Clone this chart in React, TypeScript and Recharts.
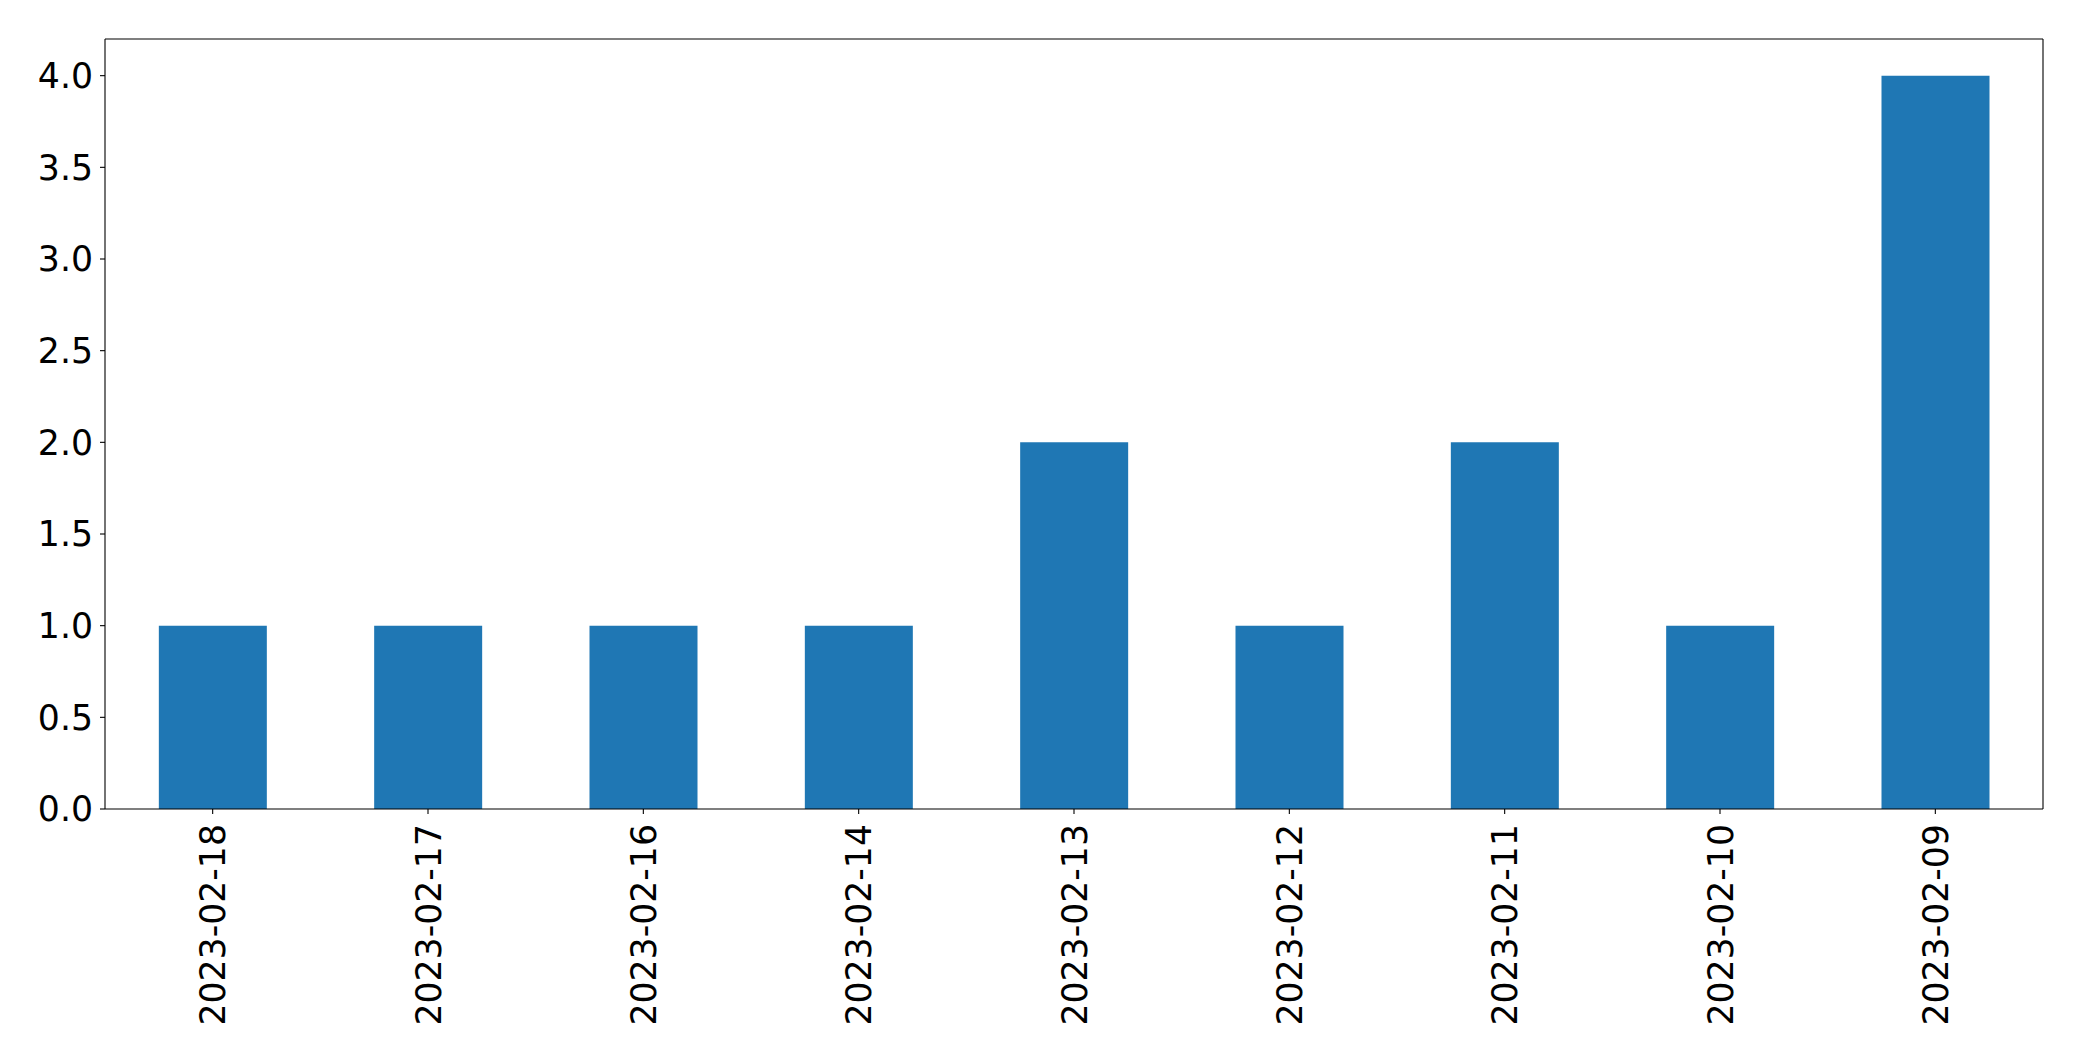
import { BarChart, Bar, XAxis, YAxis, ReferenceLine } from 'recharts';

const dates = [
  '2023-02-18', '2023-02-17', '2023-02-16', '2023-02-14', '2023-02-13',
  '2023-02-12', '2023-02-11', '2023-02-10', '2023-02-09',
];
const counts = [1, 1, 1, 1, 2, 1, 2, 1, 4];
const yTicks = [0, 0.5, 1, 1.5, 2, 2.5, 3, 3.5, 4];
const yMax = 4.2;

const data = dates.map((d, i) => ({ date: d, count: counts[i] }));

const FONT = "'DejaVu Sans', sans-serif";
const FS = 34.7;
const BLUE = '#1f77b4';

function DateTick({ x, y, payload }: any) {
  return (
    <text
      x={0}
      y={0}
      transform={`translate(${x},${y + 8}) rotate(-90)`}
      textAnchor="end"
      dy="0.36em"
      fill="#000"
      fontSize={FS}
      fontFamily={FONT}
    >
      {payload.value}
    </text>
  );
}

export default function App() {
  return (
    <div style={{ position: 'absolute', left: 0, top: 0, background: '#fff' }}>
      <BarChart
        width={2082}
        height={1061}
        data={data}
        margin={{ top: 39, right: 39, left: 0, bottom: 0 }}
        barCategoryGap="25%"
      >
        <XAxis
          dataKey="date"
          height={252}
          interval={0}
          axisLine={{ stroke: '#000', strokeWidth: 1.1 }}
          tickLine={{ stroke: '#000', strokeWidth: 1.1 }}
          tickSize={5}
          tick={<DateTick />}
        />
        <YAxis
          width={105}
          domain={[0, yMax]}
          ticks={yTicks}
          interval={0}
          tickFormatter={(v: number) => v.toFixed(1)}
          axisLine={{ stroke: '#000', strokeWidth: 1.1 }}
          tickLine={{ stroke: '#000', strokeWidth: 1.1 }}
          tickSize={5}
          tickMargin={7}
          tick={{ fill: '#000', fontSize: FS, fontFamily: FONT }}
        />
        <Bar dataKey="count" fill={BLUE} isAnimationActive={false} />
        {/* frame: top and right spines */}
        <ReferenceLine y={yMax} stroke="#000" strokeWidth={1.1} />
        <ReferenceLine x={dates[dates.length - 1]} position="end" stroke="#000" strokeWidth={1.1} />
      </BarChart>
    </div>
  );
}
